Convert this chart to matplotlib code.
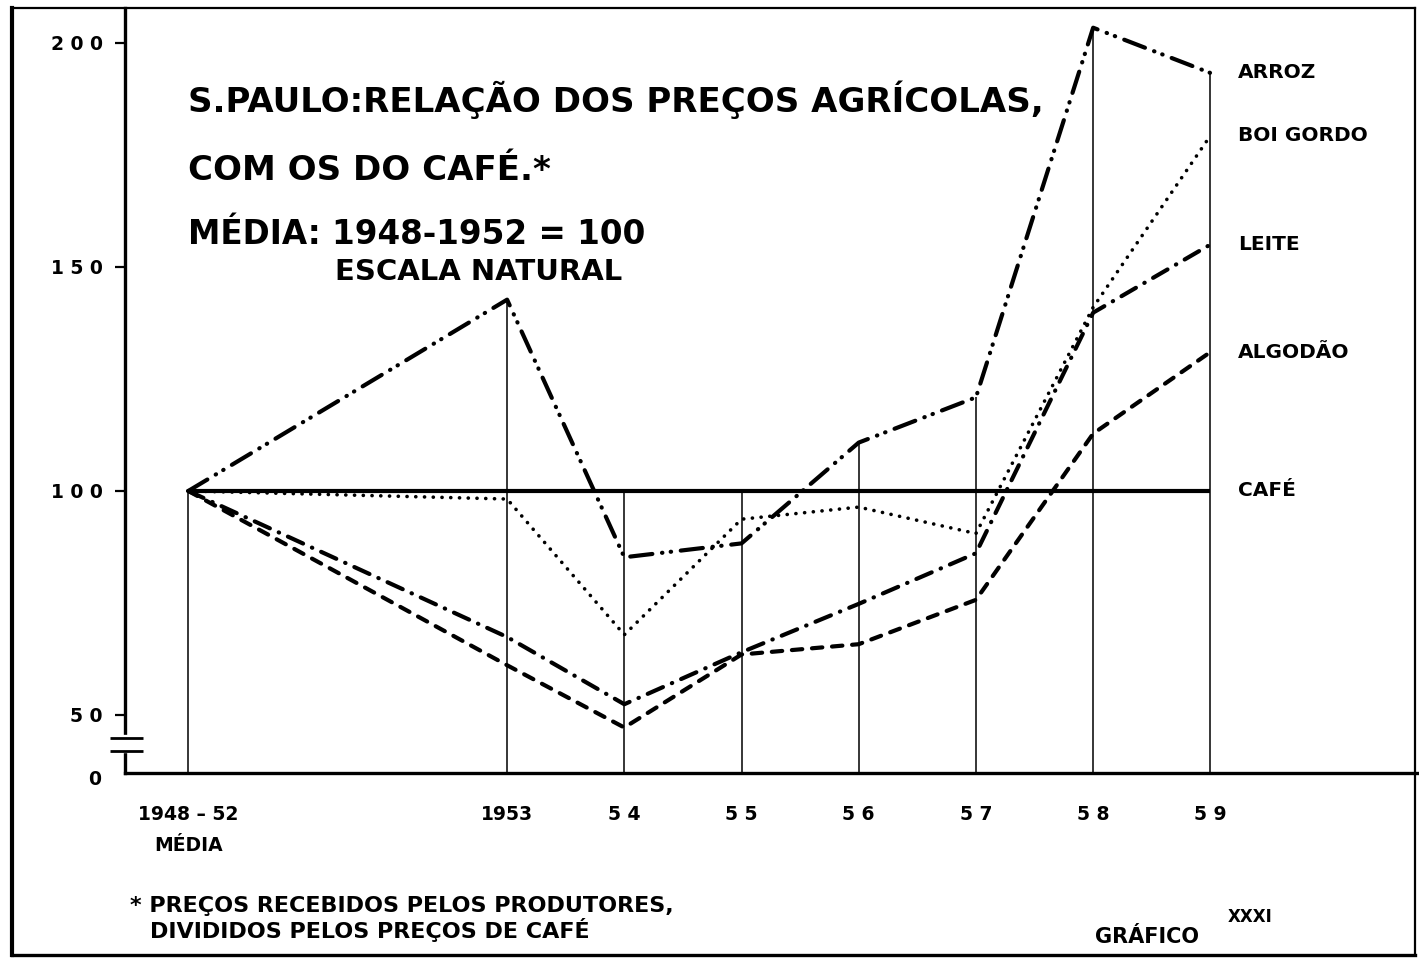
import matplotlib
matplotlib.use("Agg")
import matplotlib.pyplot as plt
import matplotlib.transforms as mtransforms
from matplotlib.lines import Line2D

plt.rcParams['font.family'] = ['DejaVu Sans']
plt.rcParams['lines.scale_dashes'] = False

W, H = 1419, 958

# ---------------- data ----------------
period_labels = ["1948 – 52\nMÉDIA", "1953", "5 4", "5 5", "5 6", "5 7", "5 8", "5 9"]
x_years = [1950.28, 1953, 1954, 1955, 1956, 1957, 1958, 1959]

arroz = [100, 142.7, 85.2, 88.3, 110.8, 120.9, 203.4, 193.3]
boi_gordo = [100, 98.2, 67.9, 93.7, 96.4, 90.5, 141.0, 179.3]
leite = [100, 67.4, 52.4, 64.0, 74.8, 86.1, 139.8, 155.0]
algodao = [100, 61.1, 47.2, 63.5, 65.8, 75.7, 112.8, 131.0]
cafe = [100, 100, 100, 100, 100, 100, 100, 100]

series_names = ["ARROZ", "BOI GORDO", "LEITE", "ALGODÃO", "CAFÉ"]

y_ticks = [200, 150, 100, 50]
y_tick_labels = ["2 0 0", "1 5 0", "1 0 0", "5 0"]

title_lines = ["S.PAULO:RELAÇÃO DOS PREÇOS AGRÍCOLAS,",
               "COM OS DO CAFÉ.*",
               "MÉDIA: 1948-1952 = 100"]
subtitle = "ESCALA NATURAL"
footnote = ["* PREÇOS RECEBIDOS PELOS PRODUTORES,",
            "DIVIDIDOS PELOS PREÇOS DE CAFÉ"]
graph_label = "GRÁFICO"
graph_number = "XXXI"

# ---------------- figure ----------------
fig = plt.figure(figsize=(W / 100, H / 100), dpi=100)
fig.patch.set_facecolor("white")


def fx(px):
    return px / W


def fy(py):
    return 1 - py / H


ax = fig.add_axes([fx(125), fy(773), (W - 125) / W, (773 - 8) / H])
ax.set_facecolor("none")
ymin, ymax = 37.05, 207.8
ax.set_xlim(1949.74, 1960.78)
ax.set_ylim(ymin, ymax)

for s in ["top", "right"]:
    ax.spines[s].set_visible(False)
ax.spines["left"].set_linewidth(2.4)
ax.spines["bottom"].set_linewidth(2.4)

ax.set_yticks(y_ticks)
ax.set_yticklabels(y_tick_labels, fontsize=13.5, fontweight="bold")
ax.tick_params(axis="y", direction="out", length=7, width=1.6, pad=9)

ax.set_xticks(x_years)
ax.set_xticklabels(period_labels, fontsize=13.5, fontweight="bold")
ax.tick_params(axis="x", length=0, pad=23)
for lab in ax.get_xticklabels():
    lab.set_linespacing(1.8)

# vertical drop lines up to the highest series value at each period
tops = [max(a, b, c, d, e) for a, b, c, d, e in zip(arroz, boi_gordo, leite, algodao, cafe)]
ax.vlines(x_years, ymin, tops, color="black", lw=1.1, zorder=1)

k = "black"
ax.plot(x_years, cafe, color=k, lw=3.0, solid_capstyle="butt", zorder=3)
ax.plot(x_years, arroz, color=k, lw=3.0, dashes=(16, 7, 0.3, 6, 0.3, 7),
        dash_capstyle="round", zorder=3)
ax.plot(x_years, boi_gordo, color=k, lw=2.6, dashes=(0.1, 6.2),
        dash_capstyle="round", zorder=3)
ax.plot(x_years, leite, color=k, lw=3.0, dashes=(12, 7, 0.3, 7),
        dash_capstyle="round", zorder=3)
ax.plot(x_years, algodao, color=k, lw=3.0, dashes=(7.5, 7),
        dash_capstyle="round", zorder=3)

# series labels at the right end
for name, ser in zip(series_names, [arroz, boi_gordo, leite, algodao, cafe]):
    ax.annotate(name, xy=(x_years[-1], ser[-1]), xytext=(20, 0),
                textcoords="offset points", ha="left", va="center",
                fontsize=14.5, fontweight="bold")

# axis break and the "0" label
bt = mtransforms.blended_transform_factory(ax.transAxes, ax.transData)
ax.plot([0, 0], [42.3, 44.6], transform=bt, color="white", lw=6,
        clip_on=False, zorder=6)
for yv in (44.9, 42.0):
    ax.plot([-0.0116, 0.0139], [yv, yv], transform=bt, color="black", lw=2.0,
            clip_on=False, zorder=7, solid_capstyle="butt")
ax.text(-0.0185, 35.7, "0", transform=bt, ha="right", va="center",
        fontsize=13.5, fontweight="bold")

# ---------------- titles ----------------
fig.text(fx(188), fy(100), title_lines[0], ha="left", va="center",
         fontsize=24.5, fontweight="bold")
fig.text(fx(188), fy(170), title_lines[1], ha="left", va="center",
         fontsize=24.5, fontweight="bold")
fig.text(fx(188), fy(235), title_lines[2], ha="left", va="center",
         fontsize=23.5, fontweight="bold")
fig.text(fx(335), fy(272), subtitle, ha="left", va="center",
         fontsize=21, fontweight="bold")

# ---------------- footnote ----------------
fig.text(fx(130), fy(906), footnote[0], ha="left", va="center",
         fontsize=16, fontweight="bold")
fig.text(fx(150), fy(930), footnote[1], ha="left", va="center",
         fontsize=16, fontweight="bold")
fig.text(fx(1095), fy(937), graph_label, ha="left", va="center",
         fontsize=15, fontweight="bold")
fig.text(fx(1228), fy(917), graph_number, ha="left", va="center",
         fontsize=12, fontweight="bold")

# ---------------- outer frame ----------------
frame = [((12, 8), (12, 955), 3.0),
         ((12, 8), (1415, 8), 1.6),
         ((1415, 8), (1415, 955), 1.6),
         ((12, 955), (1415, 955), 2.4)]
for (x0, y0), (x1, y1), lw in frame:
    fig.add_artist(Line2D([fx(x0), fx(x1)], [fy(y0), fy(y1)],
                          transform=fig.transFigure, color="black", lw=lw))

fig.savefig("out.png", dpi=100)
